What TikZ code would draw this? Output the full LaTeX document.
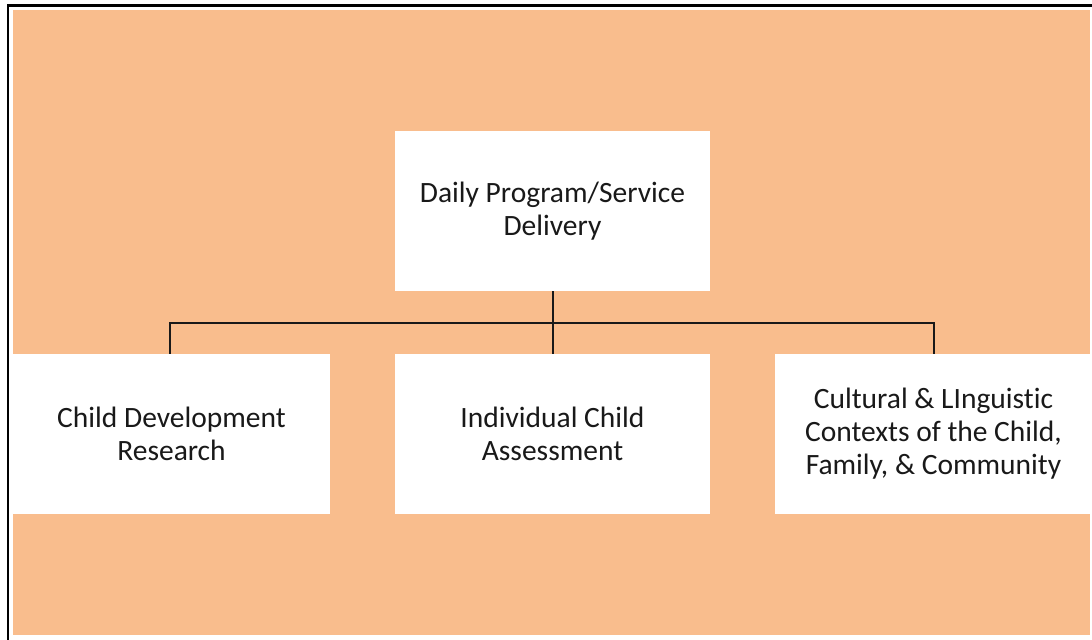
\documentclass[tikz,border=0pt]{standalone}
\usepackage{fontspec}
\setmainfont[Ligatures={NoCommon}]{Carlito}
\definecolor{bgorange}{RGB}{249,189,141}
\definecolor{txt}{RGB}{25,25,25}
\begin{document}
\begin{tikzpicture}[x=1bp,y=-1bp,
  box/.style={fill=white, draw=none, minimum width=315bp, minimum height=160bp, inner sep=0pt,
    align=center, text=txt, font=\fontsize{29.5bp}{33bp}\selectfont},
  conn/.style={draw=black!90, line width=2bp}]
\useasboundingbox (0,0) rectangle (1092,640);
\fill[bgorange] (13,10) rectangle (1090,635);
\draw[line width=2.5bp] (8,640) -- (8,5.5) -- (1092,5.5);
\node[box] (top) at (552.5,211) {Daily Program/Service\\Delivery};
\node[box, minimum width=317bp] (l) at (171.5,434) {Child Development\\Research};
\node[box] (m) at (552.5,434) {Individual Child\\Assessment};
\node[box, minimum width=317bp] (r) at (933.5,434) {Cultural \& LInguistic\\Contexts of the Child,\\Family, \& Community};
\coordinate (bus) at (552.5,323);
\draw[conn] (top.south) -- (m.north);
\draw[conn] ([xshift=-1.5bp]l.north) |- (bus) -| (r.north);
\end{tikzpicture}
\end{document}
